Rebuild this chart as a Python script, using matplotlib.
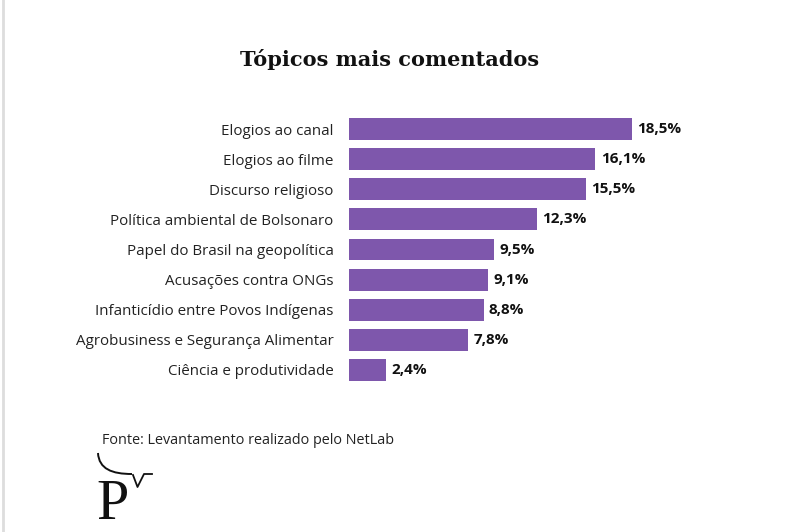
import matplotlib
matplotlib.use("Agg")
import matplotlib.pyplot as plt
from matplotlib.path import Path
from matplotlib.patches import PathPatch

categories = [
    "Elogios ao canal",
    "Elogios ao filme",
    "Discurso religioso",
    "Política ambiental de Bolsonaro",
    "Papel do Brasil na geopolítica",
    "Acusações contra ONGs",
    "Infanticídio entre Povos Indígenas",
    "Agrobusiness e Segurança Alimentar",
    "Ciência e produtividade",
]
values = [18.5, 16.1, 15.5, 12.3, 9.5, 9.1, 8.8, 7.8, 2.4]
value_labels = ["18,5%", "16,1%", "15,5%", "12,3%", "9,5%", "9,1%", "8,8%", "7,8%", "2,4%"]
title = "Tópicos mais comentados"
source = "Fonte: Levantamento realizado pelo NetLab"

W, H = 800, 532
fig = plt.figure(figsize=(W / 100, H / 100), dpi=100)
fig.patch.set_facecolor("white")

# axes placed in pixel geometry
ax_left, ax_right, ax_top, ax_bottom = 349, 750, 114, 385
ax = fig.add_axes([ax_left / W, 1 - ax_bottom / H, (ax_right - ax_left) / W, (ax_bottom - ax_top) / H])
px_per_unit = 15.3
ax.set_xlim(0, (ax_right - ax_left) / px_per_unit)
ax.set_ylim(len(categories) - 0.5, -0.5)

ypos = list(range(len(categories)))
ax.barh(ypos, values, height=0.73, color="#7e57ac", edgecolor="none")
for y, v, lab in zip(ypos, values, value_labels):
    ax.text(v + 0.35, y, lab, va="center", ha="left", fontsize=11, fontweight="bold",
            family="Open Sans", color="#111111")

ax.set_yticks(ypos)
ax.set_yticklabels(categories, fontsize=10.9, family="Open Sans", color="#222222")
ax.tick_params(axis="y", length=0, pad=11)
ax.set_xticks([])
for s in ax.spines.values():
    s.set_visible(False)

fig.text(390 / W, 1 - 60 / H, title, ha="center", va="center", fontsize=15,
         fontweight="bold", family="DejaVu Serif", color="#111111")
fig.text(102 / W, 1 - 441 / H, source, ha="left", va="center", fontsize=10.35,
         family="Open Sans", color="#222222")

# logo
fig.text(96 / W, 1 - 519 / H, "P", ha="left", va="baseline", fontsize=42,
         family="Liberation Serif", color="#111111")
lax = fig.add_axes([0, 0, 1, 1], facecolor="none")
lax.set_xlim(0, W)
lax.set_ylim(H, 0)
lax.axis("off")
verts = [(98, 453), (99, 469), (112, 474), (132, 474)]
codes = [Path.MOVETO, Path.CURVE4, Path.CURVE4, Path.CURVE4]
lax.add_patch(PathPatch(Path(verts, codes), facecolor="none", edgecolor="#111111", lw=1.4))
lax.plot([133, 137.5, 144, 152], [475, 487, 474, 474], color="#111111", lw=1.3)
lax.plot([3, 3], [0, H], color="#dddddd", lw=2)

fig.savefig("out.png", dpi=100, facecolor="white")
